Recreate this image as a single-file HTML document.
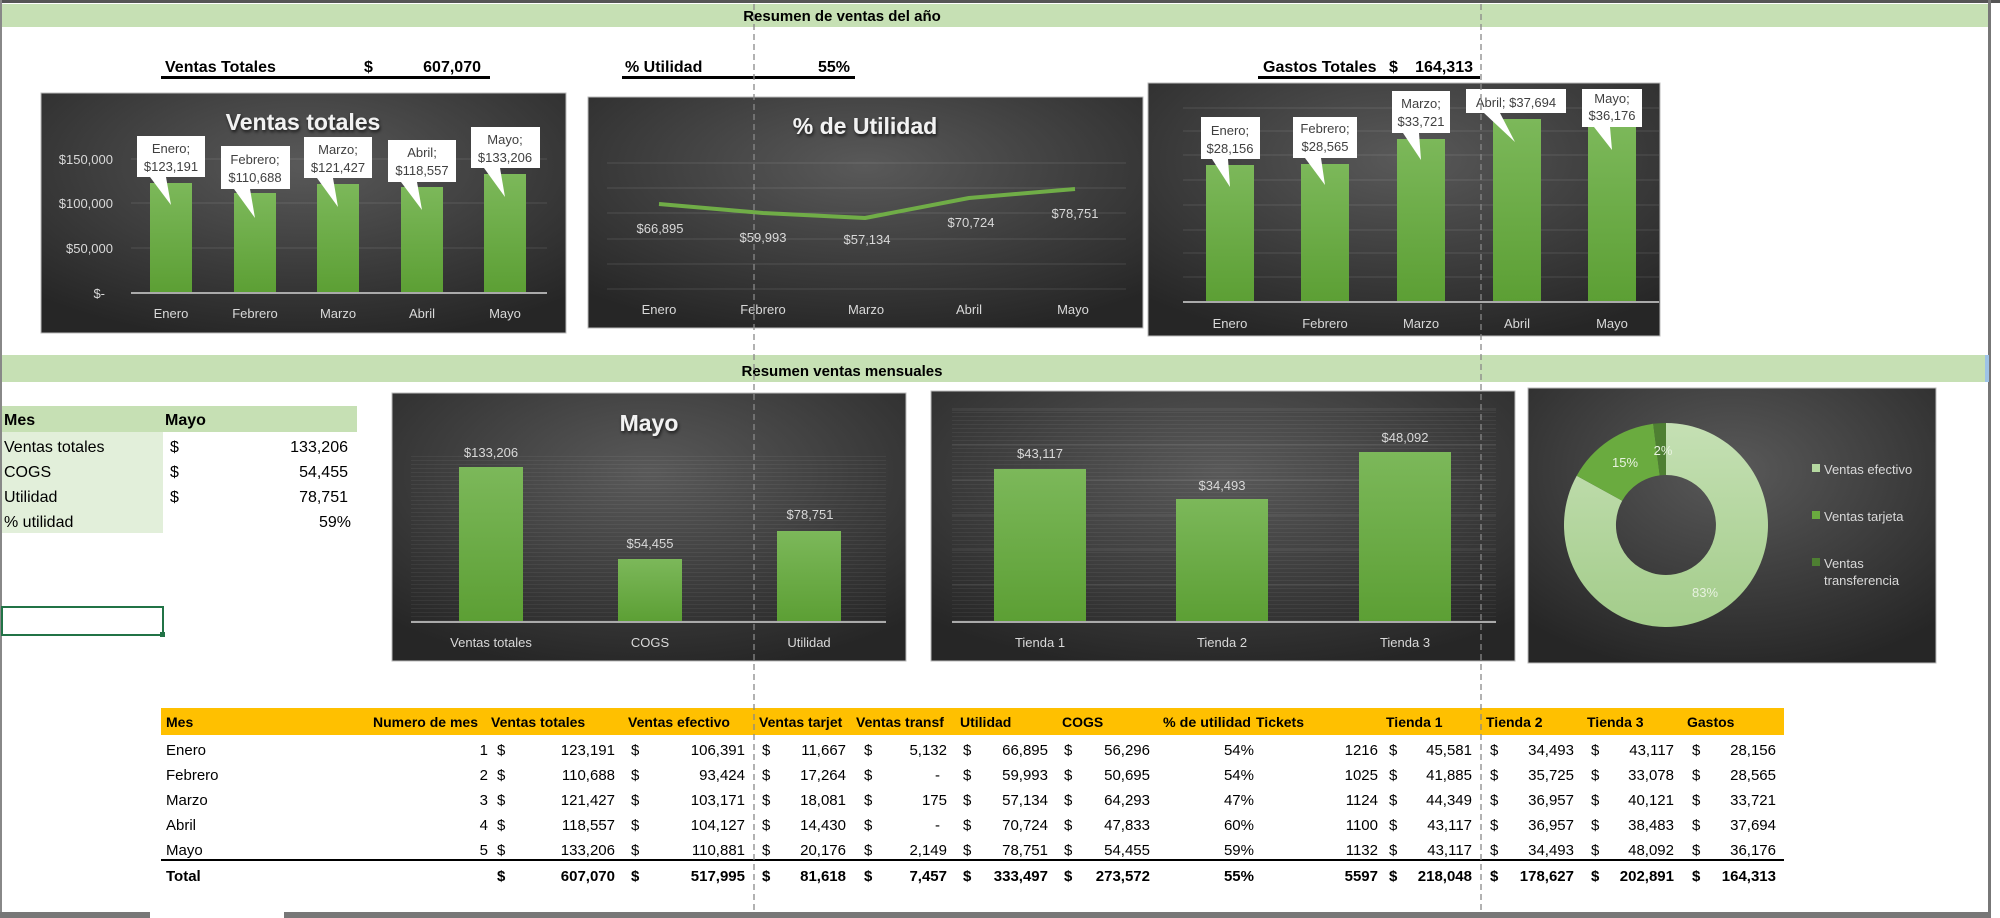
<!DOCTYPE html>
<html><head><meta charset="utf-8"><style>
html,body{margin:0;padding:0;background:#fff;width:2000px;height:918px;overflow:hidden}
svg{display:block}
text{font-family:"Liberation Sans Narrow","Liberation Sans",sans-serif}
</style></head><body>
<svg width="2000" height="918" viewBox="0 0 2000 918" xmlns="http://www.w3.org/2000/svg">
<defs>
<radialGradient id="bg" cx="50%" cy="30%" r="75%"><stop offset="0" stop-color="#595959"/><stop offset="1" stop-color="#262626"/></radialGradient>
<linearGradient id="bar" x1="0" y1="0" x2="0" y2="1"><stop offset="0" stop-color="#7cb85a"/><stop offset="1" stop-color="#5c9f34"/></linearGradient>
<linearGradient id="lg" x1="0" y1="0" x2="0" y2="1"><stop offset="0" stop-color="#c5e0b4"/><stop offset="1" stop-color="#a3cc8a"/></linearGradient>
<pattern id="stripe" width="10" height="4" patternUnits="userSpaceOnUse"><rect width="10" height="1" fill="#fff" fill-opacity="0.05"/></pattern>
<filter id="sh"><feDropShadow dx="1" dy="2" stdDeviation="1.5" flood-color="#000" flood-opacity="0.7"/></filter>
</defs>
<rect x="0" y="0" width="2000" height="3" fill="#555"/>
<rect x="0" y="0" width="2" height="918" fill="#888"/>
<rect x="1988" y="0" width="3" height="918" fill="#777"/>
<rect x="0" y="912" width="150" height="6" fill="#777"/>
<rect x="284" y="912" width="1706" height="6" fill="#777"/>
<rect x="2" y="4" width="1986" height="23" fill="#c6e0b4"/>
<text x="842" y="21" font-size="15" font-weight="bold" text-anchor="middle" fill="#000">Resumen de ventas del año</text>
<g font-size="16" font-weight="bold" fill="#000">
<text x="165" y="72">Ventas Totales</text><text x="364" y="72">$</text><text x="481" y="72" text-anchor="end">607,070</text>
<text x="625" y="72">% Utilidad</text><text x="850" y="72" text-anchor="end">55%</text>
<text x="1263" y="72">Gastos Totales</text><text x="1389" y="72">$</text><text x="1473" y="72" text-anchor="end">164,313</text>
</g>
<rect x="161" y="76" width="329" height="3" fill="#000"/>
<rect x="622" y="76" width="233" height="3" fill="#000"/>
<rect x="1258" y="76" width="222" height="3" fill="#000"/>

<rect x="41" y="93" width="525" height="240" fill="url(#bg)" stroke="#bbb" stroke-width="1"/>
<text x="303" y="130" font-size="23" font-weight="bold" fill="#f2f2f2" text-anchor="middle" filter="url(#sh)">Ventas totales</text>
<g stroke="#fff" stroke-opacity="0.12"><line x1="131" y1="159" x2="547" y2="159"/><line x1="131" y1="203" x2="547" y2="203"/><line x1="131" y1="248" x2="547" y2="248"/></g>
<g font-size="13" fill="#d9d9d9" text-anchor="end"><text x="113" y="164">$150,000</text><text x="113" y="208">$100,000</text><text x="113" y="253">$50,000</text><text x="105" y="298">$-</text></g>
<g fill="url(#bar)"><rect x="150" y="183" width="42" height="110"/><rect x="234" y="193" width="42" height="100"/><rect x="317" y="184" width="42" height="109"/><rect x="401" y="187" width="42" height="106"/><rect x="484" y="174" width="42" height="119"/></g>
<line x1="131" y1="293" x2="547" y2="293" stroke="#aaa" stroke-width="2"/>
<g font-size="13" fill="#d9d9d9" text-anchor="middle"><text x="171" y="318">Enero</text><text x="255" y="318">Febrero</text><text x="338" y="318">Marzo</text><text x="422" y="318">Abril</text><text x="505" y="318">Mayo</text></g>
<g fill="#fff"><rect x="137" y="136" width="68" height="41"/><polygon points="150,177 166,177 171,205"/>
<rect x="221" y="146" width="69" height="43"/><polygon points="234,189 250,189 255,218"/>
<rect x="304" y="137" width="68" height="41"/><polygon points="317,178 333,178 338,207"/>
<rect x="388" y="140" width="68" height="42"/><polygon points="401,182 417,182 422,210"/>
<rect x="471" y="127" width="69" height="41"/><polygon points="484,168 500,168 505,197"/></g>
<g font-size="13" fill="#404040" text-anchor="middle">
<text x="171" y="153">Enero;</text><text x="171" y="171">$123,191</text>
<text x="255" y="164">Febrero;</text><text x="255" y="182">$110,688</text>
<text x="338" y="154">Marzo;</text><text x="338" y="172">$121,427</text>
<text x="422" y="157">Abril;</text><text x="422" y="175">$118,557</text>
<text x="505" y="144">Mayo;</text><text x="505" y="162">$133,206</text></g>

<rect x="588" y="97" width="555" height="231" fill="url(#bg)" stroke="#bbb" stroke-width="1"/>
<text x="865" y="134" font-size="23" font-weight="bold" fill="#f2f2f2" text-anchor="middle" filter="url(#sh)">% de Utilidad</text>
<g stroke="#fff" stroke-opacity="0.12"><line x1="607" y1="163" x2="1126" y2="163"/><line x1="607" y1="188" x2="1126" y2="188"/><line x1="607" y1="213" x2="1126" y2="213"/><line x1="607" y1="239" x2="1126" y2="239"/><line x1="607" y1="264" x2="1126" y2="264"/><line x1="607" y1="289" x2="1126" y2="289"/></g>
<polyline points="659,204 763,213 865,218 969,198 1075,189" fill="none" stroke="#70ad47" stroke-width="4" stroke-linejoin="round"/>
<g font-size="13" fill="#d9d9d9" text-anchor="middle"><text x="660" y="233">$66,895</text><text x="763" y="242">$59,993</text><text x="867" y="244">$57,134</text><text x="971" y="227">$70,724</text><text x="1075" y="218">$78,751</text>
<text x="659" y="314">Enero</text><text x="763" y="314">Febrero</text><text x="866" y="314">Marzo</text><text x="969" y="314">Abril</text><text x="1073" y="314">Mayo</text></g>

<rect x="1148" y="83" width="512" height="253" fill="url(#bg)" stroke="#bbb" stroke-width="1"/>
<g stroke="#fff" stroke-opacity="0.12"><line x1="1183" y1="108" x2="1659" y2="108"/><line x1="1183" y1="131" x2="1659" y2="131"/><line x1="1183" y1="155" x2="1659" y2="155"/><line x1="1183" y1="180" x2="1659" y2="180"/><line x1="1183" y1="205" x2="1659" y2="205"/><line x1="1183" y1="230" x2="1659" y2="230"/><line x1="1183" y1="253" x2="1659" y2="253"/><line x1="1183" y1="277" x2="1659" y2="277"/></g>
<g fill="url(#bar)"><rect x="1206" y="165" width="48" height="137"/><rect x="1301" y="164" width="48" height="138"/><rect x="1397" y="139" width="48" height="163"/><rect x="1493" y="119" width="48" height="183"/><rect x="1588" y="126" width="48" height="176"/></g>
<line x1="1183" y1="302" x2="1659" y2="302" stroke="#aaa" stroke-width="2"/>
<g font-size="13" fill="#d9d9d9" text-anchor="middle"><text x="1230" y="328">Enero</text><text x="1325" y="328">Febrero</text><text x="1421" y="328">Marzo</text><text x="1517" y="328">Abril</text><text x="1612" y="328">Mayo</text></g>
<g fill="#fff"><rect x="1201" y="117" width="59" height="42"/><polygon points="1212,159 1228,159 1230,187"/>
<rect x="1293" y="117" width="64" height="41"/><polygon points="1305,158 1321,158 1325,185"/>
<rect x="1392" y="91" width="58" height="42"/><polygon points="1403,133 1419,133 1421,160"/>
<rect x="1466" y="89" width="100" height="24"/><polygon points="1484,113 1500,113 1515,142"/>
<rect x="1582" y="89" width="60" height="38"/><polygon points="1594,127 1610,127 1612,150"/></g>
<g font-size="13" fill="#404040" text-anchor="middle">
<text x="1230" y="135">Enero;</text><text x="1230" y="153">$28,156</text>
<text x="1325" y="133">Febrero;</text><text x="1325" y="151">$28,565</text>
<text x="1421" y="108">Marzo;</text><text x="1421" y="126">$33,721</text>
<text x="1516" y="107">Abril;  $37,694</text>
<text x="1612" y="103">Mayo;</text><text x="1612" y="120">$36,176</text></g>

<rect x="2" y="355" width="1983" height="27" fill="#c6e0b4"/>
<rect x="1985" y="355" width="4" height="27" fill="#9dc3e6"/>
<text x="842" y="376" font-size="15" font-weight="bold" text-anchor="middle" fill="#000">Resumen ventas mensuales</text>

<rect x="2" y="406" width="355" height="26" fill="#c6e0b4"/>
<rect x="2" y="432" width="161" height="101" fill="#e2efda"/>
<g font-size="16" fill="#000">
<text x="4" y="425" font-weight="bold">Mes</text><text x="165" y="425" font-weight="bold">Mayo</text>
<text x="4" y="452">Ventas totales</text><text x="170" y="452">$</text><text x="348" y="452" text-anchor="end">133,206</text>
<text x="4" y="477">COGS</text><text x="170" y="477">$</text><text x="348" y="477" text-anchor="end">54,455</text>
<text x="4" y="502">Utilidad</text><text x="170" y="502">$</text><text x="348" y="502" text-anchor="end">78,751</text>
<text x="4" y="527">% utilidad</text><text x="351" y="527" text-anchor="end">59%</text>
</g>
<rect x="2" y="607" width="161" height="28" fill="none" stroke="#217346" stroke-width="2"/>
<rect x="160" y="632" width="5" height="5" fill="#217346"/>

<rect x="392" y="393" width="514" height="268" fill="url(#bg)" stroke="#bbb" stroke-width="1"/>
<rect x="411" y="455" width="475" height="167" fill="url(#stripe)"/>
<text x="649" y="431" font-size="23" font-weight="bold" fill="#f2f2f2" text-anchor="middle" filter="url(#sh)">Mayo</text>
<g fill="url(#bar)"><rect x="459" y="467" width="64" height="155"/><rect x="618" y="559" width="64" height="63"/><rect x="777" y="531" width="64" height="91"/></g>
<line x1="411" y1="622" x2="886" y2="622" stroke="#aaa" stroke-width="2"/>
<g font-size="13" fill="#d9d9d9" text-anchor="middle"><text x="491" y="457">$133,206</text><text x="650" y="548">$54,455</text><text x="810" y="519">$78,751</text>
<text x="491" y="647">Ventas totales</text><text x="650" y="647">COGS</text><text x="809" y="647">Utilidad</text></g>

<rect x="931" y="391" width="584" height="270" fill="url(#bg)" stroke="#bbb" stroke-width="1"/>
<rect x="952" y="405" width="544" height="217" fill="url(#stripe)"/>
<g stroke="#fff" stroke-opacity="0.1"><line x1="952" y1="410" x2="1496" y2="410"/><line x1="952" y1="445" x2="1496" y2="445"/><line x1="952" y1="480" x2="1496" y2="480"/><line x1="952" y1="515" x2="1496" y2="515"/><line x1="952" y1="550" x2="1496" y2="550"/><line x1="952" y1="585" x2="1496" y2="585"/></g>
<g fill="url(#bar)"><rect x="994" y="469" width="92" height="153"/><rect x="1176" y="499" width="92" height="123"/><rect x="1359" y="452" width="92" height="170"/></g>
<line x1="952" y1="622" x2="1496" y2="622" stroke="#aaa" stroke-width="2"/>
<g font-size="13" fill="#d9d9d9" text-anchor="middle"><text x="1040" y="458">$43,117</text><text x="1222" y="490">$34,493</text><text x="1405" y="442">$48,092</text>
<text x="1040" y="647">Tienda 1</text><text x="1222" y="647">Tienda 2</text><text x="1405" y="647">Tienda 3</text></g>

<rect x="1528" y="388" width="408" height="275" fill="url(#bg)" stroke="#bbb" stroke-width="1"/>
<g transform="translate(1666,525)">
<path d="M0,-102 A102,102 0 1 1 -89.3,-49.3 L-43.8,-24.2 A50,50 0 1 0 0,-50 Z" fill="url(#lg)"/>
<path d="M-89.3,-49.3 A102,102 0 0 1 -12.8,-101.2 L-6.3,-49.6 A50,50 0 0 0 -43.8,-24.2 Z" fill="#6aab3f"/>
<path d="M-12.8,-101.2 A102,102 0 0 1 0,-102 L0,-50 A50,50 0 0 0 -6.3,-49.6 Z" fill="#4e7f32"/>
</g>
<g font-size="13" fill="#e8f2e0"><text x="1625" y="467" text-anchor="middle">15%</text><text x="1663" y="455" text-anchor="middle">2%</text><text x="1705" y="597" text-anchor="middle">83%</text></g>
<rect x="1812" y="464" width="8" height="8" fill="#b5d8a0"/>
<rect x="1812" y="511" width="8" height="8" fill="#6aab3f"/>
<rect x="1812" y="558" width="8" height="8" fill="#4e7f32"/>
<g font-size="13" fill="#d9d9d9"><text x="1824" y="474">Ventas efectivo</text><text x="1824" y="521">Ventas tarjeta</text><text x="1824" y="568">Ventas</text><text x="1824" y="585">transferencia</text></g>

<rect x="161" y="708" width="1623" height="27" fill="#ffc000"/>
<g font-size="14" font-weight="bold" fill="#000">
<text x="166" y="727">Mes</text><text x="478" y="727" text-anchor="end">Numero de mes</text><text x="491" y="727">Ventas totales</text><text x="628" y="727">Ventas efectivo</text><text x="759" y="727">Ventas tarjet</text><text x="856" y="727">Ventas transf</text><text x="960" y="727">Utilidad</text><text x="1062" y="727">COGS</text><text x="1163" y="727" textLength="88" lengthAdjust="spacingAndGlyphs">% de utilidad</text><text x="1256" y="727">Tickets</text><text x="1386" y="727">Tienda 1</text><text x="1486" y="727">Tienda 2</text><text x="1587" y="727">Tienda 3</text><text x="1687" y="727">Gastos</text>
</g>
<rect x="161" y="859" width="1623" height="2" fill="#000"/>
<g font-size="15" fill="#000">
<g text-anchor="start"><text x="166" y="755">Enero</text><text x="166" y="780">Febrero</text><text x="166" y="805">Marzo</text><text x="166" y="830">Abril</text><text x="166" y="855">Mayo</text></g>
<g text-anchor="end">
<text x="488" y="755">1</text><text x="488" y="780">2</text><text x="488" y="805">3</text><text x="488" y="830">4</text><text x="488" y="855">5</text>
<text x="615" y="755">123,191</text><text x="615" y="780">110,688</text><text x="615" y="805">121,427</text><text x="615" y="830">118,557</text><text x="615" y="855">133,206</text>
<text x="745" y="755">106,391</text><text x="745" y="780">93,424</text><text x="745" y="805">103,171</text><text x="745" y="830">104,127</text><text x="745" y="855">110,881</text>
<text x="846" y="755">11,667</text><text x="846" y="780">17,264</text><text x="846" y="805">18,081</text><text x="846" y="830">14,430</text><text x="846" y="855">20,176</text>
<text x="947" y="755">5,132</text><text x="940" y="780">-</text><text x="947" y="805">175</text><text x="940" y="830">-</text><text x="947" y="855">2,149</text>
<text x="1048" y="755">66,895</text><text x="1048" y="780">59,993</text><text x="1048" y="805">57,134</text><text x="1048" y="830">70,724</text><text x="1048" y="855">78,751</text>
<text x="1150" y="755">56,296</text><text x="1150" y="780">50,695</text><text x="1150" y="805">64,293</text><text x="1150" y="830">47,833</text><text x="1150" y="855">54,455</text>
<text x="1254" y="755">54%</text><text x="1254" y="780">54%</text><text x="1254" y="805">47%</text><text x="1254" y="830">60%</text><text x="1254" y="855">59%</text>
<text x="1378" y="755">1216</text><text x="1378" y="780">1025</text><text x="1378" y="805">1124</text><text x="1378" y="830">1100</text><text x="1378" y="855">1132</text>
<text x="1472" y="755">45,581</text><text x="1472" y="780">41,885</text><text x="1472" y="805">44,349</text><text x="1472" y="830">43,117</text><text x="1472" y="855">43,117</text>
<text x="1574" y="755">34,493</text><text x="1574" y="780">35,725</text><text x="1574" y="805">36,957</text><text x="1574" y="830">36,957</text><text x="1574" y="855">34,493</text>
<text x="1674" y="755">43,117</text><text x="1674" y="780">33,078</text><text x="1674" y="805">40,121</text><text x="1674" y="830">38,483</text><text x="1674" y="855">48,092</text>
<text x="1776" y="755">28,156</text><text x="1776" y="780">28,565</text><text x="1776" y="805">33,721</text><text x="1776" y="830">37,694</text><text x="1776" y="855">36,176</text>
</g>
<g>
<text x="497" y="755">$</text><text x="497" y="780">$</text><text x="497" y="805">$</text><text x="497" y="830">$</text><text x="497" y="855">$</text>
<text x="631" y="755">$</text><text x="631" y="780">$</text><text x="631" y="805">$</text><text x="631" y="830">$</text><text x="631" y="855">$</text>
<text x="762" y="755">$</text><text x="762" y="780">$</text><text x="762" y="805">$</text><text x="762" y="830">$</text><text x="762" y="855">$</text>
<text x="864" y="755">$</text><text x="864" y="780">$</text><text x="864" y="805">$</text><text x="864" y="830">$</text><text x="864" y="855">$</text>
<text x="963" y="755">$</text><text x="963" y="780">$</text><text x="963" y="805">$</text><text x="963" y="830">$</text><text x="963" y="855">$</text>
<text x="1064" y="755">$</text><text x="1064" y="780">$</text><text x="1064" y="805">$</text><text x="1064" y="830">$</text><text x="1064" y="855">$</text>
<text x="1389" y="755">$</text><text x="1389" y="780">$</text><text x="1389" y="805">$</text><text x="1389" y="830">$</text><text x="1389" y="855">$</text>
<text x="1490" y="755">$</text><text x="1490" y="780">$</text><text x="1490" y="805">$</text><text x="1490" y="830">$</text><text x="1490" y="855">$</text>
<text x="1591" y="755">$</text><text x="1591" y="780">$</text><text x="1591" y="805">$</text><text x="1591" y="830">$</text><text x="1591" y="855">$</text>
<text x="1692" y="755">$</text><text x="1692" y="780">$</text><text x="1692" y="805">$</text><text x="1692" y="830">$</text><text x="1692" y="855">$</text>
</g>
</g>
<g font-size="15" font-weight="bold" fill="#000">
<text x="166" y="881">Total</text>
<text x="497" y="881">$</text><text x="631" y="881">$</text><text x="762" y="881">$</text><text x="864" y="881">$</text><text x="963" y="881">$</text><text x="1064" y="881">$</text><text x="1389" y="881">$</text><text x="1490" y="881">$</text><text x="1591" y="881">$</text><text x="1692" y="881">$</text>
<g text-anchor="end"><text x="615" y="881">607,070</text><text x="745" y="881">517,995</text><text x="846" y="881">81,618</text><text x="947" y="881">7,457</text><text x="1048" y="881">333,497</text><text x="1150" y="881">273,572</text><text x="1254" y="881">55%</text><text x="1378" y="881">5597</text><text x="1472" y="881">218,048</text><text x="1574" y="881">178,627</text><text x="1674" y="881">202,891</text><text x="1776" y="881">164,313</text></g>
</g>

<line x1="754" y1="4" x2="754" y2="912" stroke="#888" stroke-width="1.3" stroke-dasharray="6,4"/>
<line x1="1481" y1="4" x2="1481" y2="912" stroke="#888" stroke-width="1.3" stroke-dasharray="6,4"/>
</svg>
</body></html>
